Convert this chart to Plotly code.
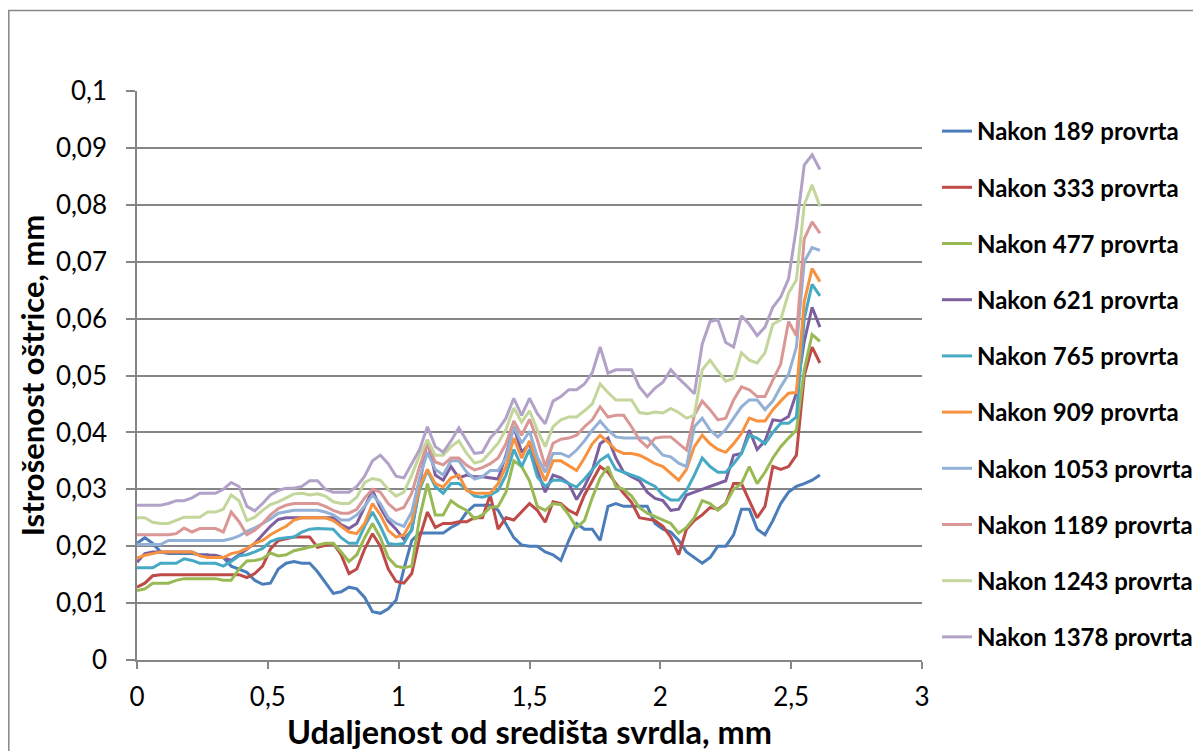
import plotly.graph_objects as go

# distance from drill centre, mm
x_mm = [0.00, 0.03, 0.06, 0.09, 0.12, 0.15, 0.18, 0.21, 0.24, 0.27,
        0.30, 0.33, 0.36, 0.39, 0.42, 0.45, 0.48, 0.51, 0.54, 0.57,
        0.60, 0.63, 0.66, 0.69, 0.72, 0.75, 0.78, 0.81, 0.84, 0.87,
        0.90, 0.93, 0.96, 0.99, 1.02, 1.05, 1.08, 1.11, 1.14, 1.17,
        1.20, 1.23, 1.26, 1.29, 1.32, 1.35, 1.38, 1.41, 1.44, 1.47,
        1.50, 1.53, 1.56, 1.59, 1.62, 1.65, 1.68, 1.71, 1.74, 1.77,
        1.80, 1.83, 1.86, 1.89, 1.92, 1.95, 1.98, 2.01, 2.04, 2.07,
        2.10, 2.13, 2.16, 2.19, 2.22, 2.25, 2.28, 2.31, 2.34, 2.37,
        2.40, 2.43, 2.46, 2.49, 2.52, 2.55, 2.58, 2.61]

# wear values in micrometres (0.001 mm)
wear_189_um = [20.5, 21.5, 20.5, 19, 18.7, 18.7, 18.7, 18.7, 18.5, 18.5,
               18, 18, 16.5, 16, 15.4, 14, 13.3, 13.5, 16, 17,
               17.3, 17, 17, 15.5, 13.5, 11.7, 12, 12.8, 12.5, 11,
               8.5, 8.2, 9, 10.5, 16, 21, 22.3, 22.3, 22.3, 22.3,
               23.3, 24, 26, 27.2, 27.2, 27.2, 26.3, 24, 21.5, 20.2,
               20, 20, 19, 18.5, 17.5, 21, 24, 23, 23, 21,
               27, 27.5, 27, 27, 27, 27, 24, 23, 22.5, 21,
               19, 18, 17, 18, 20, 20, 22, 26.5, 26.5, 23,
               22, 24.5, 27.5, 29.5, 30.5, 31, 31.6, 32.5]
wear_333_um = [12.8, 13.5, 14.8, 15, 15, 15, 15, 15, 15, 15,
               15, 15, 15, 15, 14.5, 15.2, 16.5, 19.5, 21, 21.3,
               21.6, 21.6, 21.6, 19.8, 20.2, 20.5, 18.5, 15.2, 16, 19.5,
               22.2, 20, 16, 13.8, 13.5, 15.2, 21.5, 26, 23.3, 24,
               24, 24.3, 24.3, 25, 25, 29, 23, 25, 24.6, 26,
               27.5, 26.3, 24.2, 27.8, 27.5, 26.3, 25.6, 29, 31.5, 34,
               33, 31, 29.3, 27.7, 25, 24.8, 24.5, 23.5, 21.6, 18.5,
               23, 24.5, 25.5, 26.8, 26.5, 27.5, 31, 31, 28, 25,
               27, 34, 33.5, 34, 36, 50, 55, 52.2]
wear_477_um = [12.2, 12.5, 13.5, 13.5, 13.5, 14, 14.3, 14.3, 14.3, 14.3,
               14.3, 14, 14, 16, 17.4, 17.5, 17.8, 18.8, 18.3, 18.5,
               19.2, 19.5, 19.8, 20.2, 20.5, 20.5, 19, 17.3, 18.5, 21.5,
               24, 21.5, 18, 16.5, 16.2, 16.5, 25, 31, 25.5, 25.5,
               28, 27, 26.3, 24.8, 25.5, 26.8, 27, 29.5, 35, 34,
               31.5, 27, 26.3, 27.5, 27.3, 25.5, 23.3, 24.5, 28.5, 32,
               34, 30.5, 30, 28.8, 26.8, 25.8, 25.2, 24.5, 24, 22.3,
               23.3, 25, 28, 27.5, 26.3, 27.5, 30, 31, 34, 31,
               33, 35.5, 37.5, 39, 40.4, 51, 57.2, 56]
wear_621_um = [17.2, 18.7, 19, 19, 19, 19, 19, 19, 18.4, 18.4,
               18.4, 18, 17.5, 18.5, 19.5, 20.5, 22, 23.5, 24.7, 25,
               25, 25, 25, 25, 25, 25, 23.8, 23.1, 24, 27,
               29.8, 26.8, 24.4, 23, 21.2, 22.8, 31, 38.7, 32.5, 31.6,
               34, 32, 32.5, 32.2, 32.2, 32, 31.8, 36, 41, 36.5,
               38, 33.3, 29.5, 32.5, 32, 31, 28.2, 30.5, 33.3, 38,
               39, 35.5, 33, 32.2, 31.5, 29.5, 28.4, 28, 26.3, 26.5,
               29, 29.5, 30, 30.4, 31, 31.5, 36, 36.3, 40.4, 37,
               38.5, 42.2, 42, 42.8, 46.9, 56, 62, 58.5]
wear_765_um = [16.2, 16.2, 16.2, 17, 17, 17, 17.8, 17.5, 17, 17,
               17, 16.5, 17.3, 18.3, 18.5, 19, 19.6, 20.8, 21.3, 21.5,
               21.6, 22.5, 23, 23.1, 23, 23, 21.5, 20.5, 20.5, 23.5,
               26, 23.5, 20.5, 20.3, 20.5, 23, 30, 33.3, 30.5, 29.3,
               31, 31, 30, 28.8, 28.6, 29, 29.8, 32.5, 37, 34,
               37, 32.2, 30.5, 31.6, 31.6, 31, 30.4, 31.8, 33.5, 35.1,
               36, 33.5, 33, 32.5, 32, 31.2, 30.5, 29, 28.1, 28.1,
               29.8, 32.5, 35.5, 34, 33, 33, 34.5, 36.3, 39.5, 39,
               38, 40, 41.6, 41.6, 42.7, 60, 66, 64]
wear_909_um = [17.9, 18.4, 18.7, 19, 19, 19, 19, 19, 18.3, 18,
               18, 18, 18.7, 19, 19.6, 20.5, 21, 22, 22.8, 23.5,
               24.6, 25, 25, 25, 25, 24.5, 23.5, 22.5, 22.2, 24,
               27.5, 25.5, 22.8, 21.6, 22, 24.5, 30.5, 33.5, 31, 30.4,
               32, 32.5, 29.8, 29.3, 29.3, 29.3, 31, 34, 39, 35.5,
               38.5, 34.6, 31.5, 35, 35, 34.2, 33.3, 35.5, 38, 39.5,
               38.3, 36.9, 36.3, 36.3, 36, 35.3, 34.5, 34, 32.8, 31.6,
               33.5, 37.5, 39.5, 38, 37, 36.5, 38, 39.8, 42.5, 42,
               42, 44, 45.5, 46.9, 47, 63, 68.8, 66.5]
wear_1053_um = [20.3, 20.3, 20.3, 20.3, 21, 21, 21, 21, 21, 21,
                21, 21, 21.3, 21.8, 22.6, 23.2, 24, 24.8, 25.8, 26,
                26.3, 26.3, 26.3, 26.3, 26, 25.5, 24.6, 24.6, 25.5, 27,
                29, 27.5, 25, 24, 23.5, 26, 32, 36.5, 33.5, 32.5,
                35, 35, 33, 31.8, 32.2, 33.3, 33.3, 35.5, 41, 38.1,
                40.2, 35.7, 33, 36.3, 36.3, 35.7, 36.9, 38.5, 40.4, 42,
                40.4, 39.2, 39, 39, 39, 39, 37.5, 36, 35.7, 34.6,
                34, 41, 42.5, 40.4, 39.2, 40.5, 42.5, 44.5, 45.7, 45.7,
                44, 45.5, 48, 50.2, 55, 70, 72.5, 72]
wear_1189_um = [22, 22, 22, 22, 22, 22.2, 23.2, 22.5, 23.1, 23.1,
                23.1, 22.5, 26, 24.3, 22, 22.8, 24, 25.5, 26.6, 27.2,
                27.5, 27.5, 27.5, 27.5, 27, 26.3, 25.8, 25.8, 26.5, 28.5,
                30, 29.5, 27.5, 26.3, 26.8, 29.3, 34, 38, 34.8, 34.3,
                35.5, 35.5, 34.2, 33.4, 33.8, 34.5, 35.5, 38, 42, 39.5,
                42.3, 38.7, 34, 38.1, 38.8, 39, 39.5, 41, 42.2, 44.5,
                42.7, 43, 43, 41, 38.7, 37.4, 39, 39.2, 39.2, 38.1,
                36.9, 43, 45.5, 44, 42.2, 42.5, 45.7, 48, 47.5, 46.3,
                46.3, 49.2, 52, 59.5, 57, 74, 77, 75]
wear_1243_um = [25, 25, 24.2, 24, 24, 24.5, 25.1, 25.1, 25.1, 26,
                26, 26.5, 29, 28, 24.5, 25.1, 26.3, 27.3, 27.8, 28.5,
                29.2, 29.3, 29, 29.2, 28.8, 27.8, 27.5, 27.5, 28.6, 31.2,
                31.9, 31.6, 30, 28.8, 29.5, 32.5, 36, 38.7, 36, 36,
                37.5, 38.5, 36.3, 34.6, 35, 36.5, 38.1, 40.5, 44.3, 41.8,
                43.8, 40.4, 37.5, 41, 42.2, 42.7, 42.7, 43.8, 45, 48.5,
                47, 45.7, 45.7, 45.7, 43.5, 43.3, 43.6, 43.4, 44.2, 43.5,
                42.5, 43, 51, 52.7, 50.8, 49, 49.5, 54, 52.7, 52.2,
                54, 59, 59.8, 64.5, 66.8, 80, 83.5, 79.7]
wear_1378_um = [27.2, 27.2, 27.2, 27.2, 27.5, 28, 28, 28.5, 29.3, 29.3,
                29.3, 30, 31.2, 30.5, 27, 26.2, 27.5, 29, 29.8, 30.2,
                30.2, 30.5, 31.5, 31.5, 30, 29.5, 29.5, 29.5, 30.5, 32.3,
                35, 36, 34.5, 32.3, 32, 34.5, 37, 41, 37.5, 36.5,
                38.5, 40.8, 38.5, 36.3, 36.5, 39, 40.5, 42.5, 46, 43,
                46, 43.3, 41.5, 45.5, 46.3, 47.5, 47.5, 48.5, 50.5, 55,
                50.4, 51, 51, 51, 48, 46.3, 47.8, 48.8, 51, 49.5,
                48.2, 46.8, 55.5, 59.5, 59.8, 55.8, 55, 60.5, 59, 57,
                58.5, 62, 63.8, 67, 76, 87, 88.8, 86.2]

series_names = ["Nakon 189 provrta", "Nakon 333 provrta", "Nakon 477 provrta",
                "Nakon 621 provrta", "Nakon 765 provrta", "Nakon 909 provrta",
                "Nakon 1053 provrta", "Nakon 1189 provrta", "Nakon 1243 provrta",
                "Nakon 1378 provrta"]
series_values = [wear_189_um, wear_333_um, wear_477_um, wear_621_um, wear_765_um,
                 wear_909_um, wear_1053_um, wear_1189_um, wear_1243_um, wear_1378_um]
series_colors = ["#4A7DBA", "#BE4B48", "#98B954", "#7D5FA0", "#46AAC5",
                 "#F69240", "#93B0D6", "#D99795", "#C3D69B", "#B3A2C7"]

x_tick_vals = [0, 0.5, 1, 1.5, 2, 2.5, 3]
x_tick_text = ["0", "0,5", "1", "1,5", "2", "2,5", "3"]
y_tick_vals = [0, 0.01, 0.02, 0.03, 0.04, 0.05, 0.06, 0.07, 0.08, 0.09, 0.1]
y_tick_text = ["0", "0,01", "0,02", "0,03", "0,04", "0,05", "0,06", "0,07", "0,08", "0,09", "0,1"]

FONT = "Lato, 'Open Sans', sans-serif"
GRID = "#868686"

fig = go.Figure()
for name, vals, col in zip(series_names, series_values, series_colors):
    fig.add_trace(go.Scatter(
        x=x_mm, y=[v / 1000 for v in vals], mode="lines", name=name,
        legendgroup=name,
        line=dict(color=col, width=3),
    ))

# figure coordinates (the page adds an 8px body margin; overflow is cut off)
W, H = 1215, 751
L, R, T, B = 129, 914, 83, 652


def px_x(p):
    return (p - L) / (R - L)


def px_y(p):
    return (B - p) / (B - T)


fig.add_shape(type="rect", xref="paper", yref="paper",
              x0=px_x(0.8), x1=px_x(W + 20), y0=px_y(H + 20), y1=px_y(2.5),
              line=dict(color=GRID, width=1.5), fillcolor="rgba(0,0,0,0)", layer="below")

fig.update_layout(
    width=W, height=H,
    margin=dict(l=L, r=W - R, t=T, b=H - B, pad=0),
    paper_bgcolor="white", plot_bgcolor="white",
    font=dict(family=FONT, color="black", size=26),
    showlegend=True,
    legend=dict(x=px_x(929), xanchor="left", y=px_y(101), yanchor="top",
                font=dict(family=FONT, size=24, color="black", weight="bold"),
                tracegroupgap=22, bgcolor="rgba(0,0,0,0)"),
    xaxis=dict(range=[0, 3], tickvals=x_tick_vals, ticktext=x_tick_text,
               showgrid=False, zeroline=False, showline=True, linecolor=GRID, linewidth=1.5,
               ticks="outside", ticklen=7, tickcolor=GRID, tickwidth=1.5,
               ticklabelstandoff=6,
               tickfont=dict(family=FONT, size=26, color="black"),
               title=dict(text="Udaljenost od središta svrdla, mm",
                          font=dict(family=FONT, size=32.5, color="black", weight="bold"),
                          standoff=4)),
    yaxis=dict(range=[0, 0.1], tickvals=y_tick_vals, ticktext=y_tick_text,
               showgrid=True, gridcolor=GRID, gridwidth=1.5, zeroline=False,
               showline=True, linecolor=GRID, linewidth=1.5,
               ticks="outside", ticklen=9, tickcolor=GRID, tickwidth=1.5,
               ticklabelstandoff=14,
               tickfont=dict(family=FONT, size=26, color="black"),
               title=dict(text="Istrošenost oštrice, mm",
                          font=dict(family=FONT, size=31, color="black", weight="bold"),
                          standoff=2)),
)

fig.write_html("out.html")
